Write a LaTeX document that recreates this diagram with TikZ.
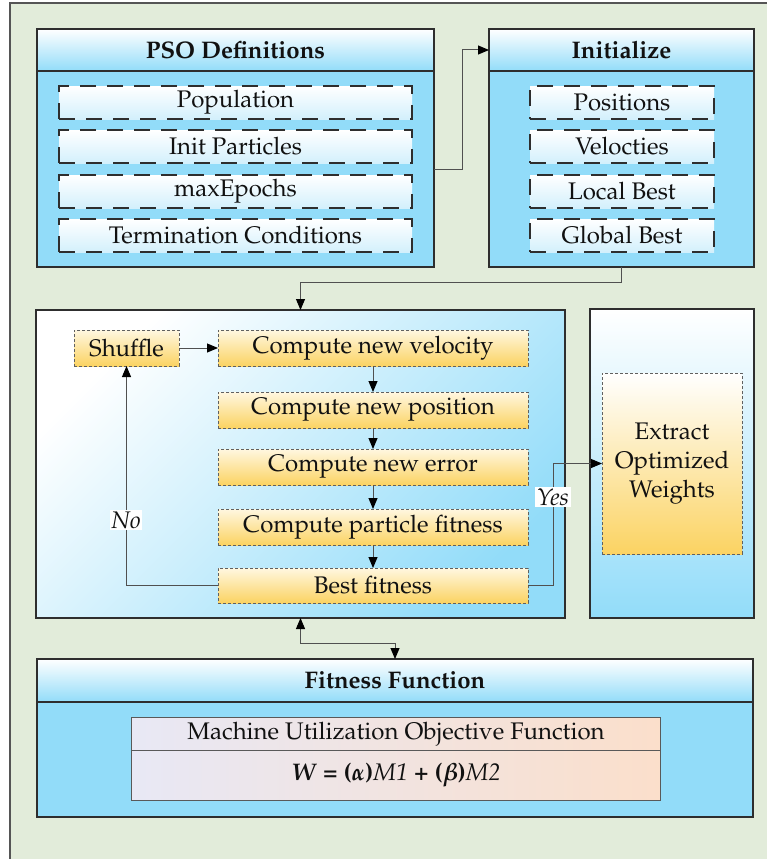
\documentclass[tikz,border=0pt]{standalone}
\usepackage[T1]{fontenc}
\usepackage{mathpazo}
\usepackage{bm}
\usetikzlibrary{arrows.meta}

\definecolor{bggreen}{HTML}{E2ECDA}
\definecolor{frame}{HTML}{555555}
\definecolor{skyblue}{HTML}{92DCF9}
\definecolor{paleblue}{HTML}{D3F0FC}
\definecolor{gold}{HTML}{FBD362}
\definecolor{cream}{HTML}{FFF7E0}
\definecolor{lavender}{HTML}{E8E8F5}
\definecolor{peach}{HTML}{FBDFCB}
\definecolor{edge}{HTML}{2E2E2E}
\definecolor{wire}{HTML}{505050}
\definecolor{ink}{HTML}{111111}

\newcommand{\txt}{\fontsize{24}{28}\selectfont}

\tikzset{
  panel/.style={draw=edge, line width=1.3pt, fill=skyblue, anchor=north west,
    inner sep=0pt, outer sep=0pt},
  headbar/.style={draw=edge, line width=1.3pt, top color=white, bottom color=skyblue,
    anchor=north west, inner sep=0pt, outer sep=0pt, text=ink,
    font=\txt\bfseries},
  item/.style={draw=edge, line width=1.4pt, dash pattern=on 16pt off 11pt,
    top color=white, bottom color=paleblue, anchor=north west,
    minimum height=33pt, inner sep=0pt, outer sep=0pt, text=ink, font=\txt},
  stepbox/.style={draw=gray!75!black, line width=0.8pt, dash pattern=on 3pt off 2pt,
    top color=cream, bottom color=gold, anchor=north west,
    minimum height=36pt, inner sep=0pt, outer sep=0pt, text=ink, font=\txt},
  conn/.style={draw=wire, line width=1pt},
  tip/.style={-{Triangle[length=11pt,width=9pt,fill=black,color=black]}},
  bothtips/.style={{Triangle[length=11pt,width=9pt,fill=black,color=black]}-{Triangle[length=11pt,width=9pt,fill=black,color=black]}},
  lbl/.style={fill=white, inner sep=1.5pt, text=ink, font=\txt\itshape}
}

\begin{document}
\begin{tikzpicture}[x=1pt,y=-1pt]
\useasboundingbox (0,0) rectangle (767,859);

% page background with its frame (open to the right and bottom)
\fill[bggreen] (10,3) rectangle (800,900);
\draw[frame, line width=2pt] (10,900) -- (10,3) -- (800,3);

% ---------- PSO Definitions ----------
\node[panel, minimum width=397pt, minimum height=238pt] (pso) at (37,29) {};
\node[headbar, minimum width=397pt, minimum height=42pt] (psohead) at (37,29) {PSO Definitions};
\node[item, minimum width=353pt] (pop) at (59,86) {Population};
\node[item, minimum width=353pt] (initp) at (59,130) {Init Particles};
\node[item, minimum width=353pt] (maxep) at (59,175) {maxEpochs};
\node[item, minimum width=353pt] (term) at (59,219) {Termination Conditions};

% ---------- Initialize ----------
\node[panel, minimum width=265pt, minimum height=238pt] (init) at (489,29) {};
\node[headbar, minimum width=265pt, minimum height=42pt] (inithead) at (489,29) {Initialize};
\node[item, minimum width=184pt] (posi) at (530,86) {Positions};
\node[item, minimum width=184pt] (velo) at (530,130) {Velocties};
\node[item, minimum width=184pt] (lbest) at (530,175) {Local Best};
\node[item, minimum width=184pt] (gbest) at (530,219) {Global Best};

% ---------- PSO loop ----------
\node[panel, top color=white, bottom color=skyblue, shading angle=45,
      minimum width=529pt, minimum height=308pt] (loop) at (36,310) {};
\node[stepbox, minimum width=105pt] (shuffle) at (74,330) {Shuffle};
\node[stepbox, minimum width=310pt] (vel) at (218,330) {Compute new velocity};
\node[stepbox, minimum width=310pt] (pos) at (218,392) {Compute new position};
\node[stepbox, minimum width=310pt] (err) at (218,449) {Compute new error};
\node[stepbox, minimum width=310pt] (fit) at (218,509) {Compute particle fitness};
\node[stepbox, minimum width=310pt, minimum height=35pt] (best) at (218,568) {Best fitness};

% ---------- Result ----------
\node[panel, top color=white, bottom color=skyblue,
      minimum width=164pt, minimum height=309pt] (result) at (590,309) {};
\node[stepbox, top color=white, bottom color=gold, align=center,
      font=\fontsize{24}{29}\selectfont,
      minimum width=140pt, minimum height=181pt] (extract) at (602,373)
      {Extract\\Optimized\\Weights};

% ---------- Fitness Function ----------
\node[panel, minimum width=716pt, minimum height=158pt] (fitfun) at (37,659) {};
\node[headbar, minimum width=716pt, minimum height=43pt] (fithead) at (37,659) {Fitness Function};
\node[draw=gray!70!black, line width=1pt, left color=lavender, right color=peach,
      anchor=north west, inner sep=0pt, text=ink, font=\txt,
      minimum width=529pt, minimum height=33pt] (objname) at (131,717)
      {Machine Utilization Objective Function};
\node[draw=gray!70!black, line width=1pt, left color=lavender, right color=peach,
      anchor=north west, inner sep=0pt, text=ink, font=\txt,
      minimum width=529pt, minimum height=50pt] (objeq) at (131,750)
      {\textbf{\textit{W}} \textbf{=} \textbf{(}$\bm{\alpha}$\textbf{)}\textit{M1} \textbf{+} \textbf{(}$\bm{\beta}$\textbf{)}\textit{M2}};

% ---------- connectors ----------
\draw[conn, tip] ([yshift=-21pt]pso.east) -- ++(28,0) |- (inithead.west);
\draw[conn, tip] (init.south) -- ++(0,15) -| (loop.north);
\draw[conn, tip] (shuffle.east) -- (vel.west);
\draw[conn, tip] (vel.south) -- (pos.north);
\draw[conn, tip] (pos.south) -- (err.north);
\draw[conn, tip] (err.south) -- (fit.north);
\draw[conn, tip] (fit.south) -- (best.north);
\draw[conn, tip] (best.west) -| (shuffle.south);
\draw[conn, tip] (best.east) -- ++(25,0) |- (extract.west);
\draw[conn, bothtips] (loop.south) -- ++(0,25) -| (fitfun.north);

\node[lbl] (no) at (126,520) {No};
\node[lbl] (yes) at (553,497) {Yes};
\end{tikzpicture}
\end{document}
